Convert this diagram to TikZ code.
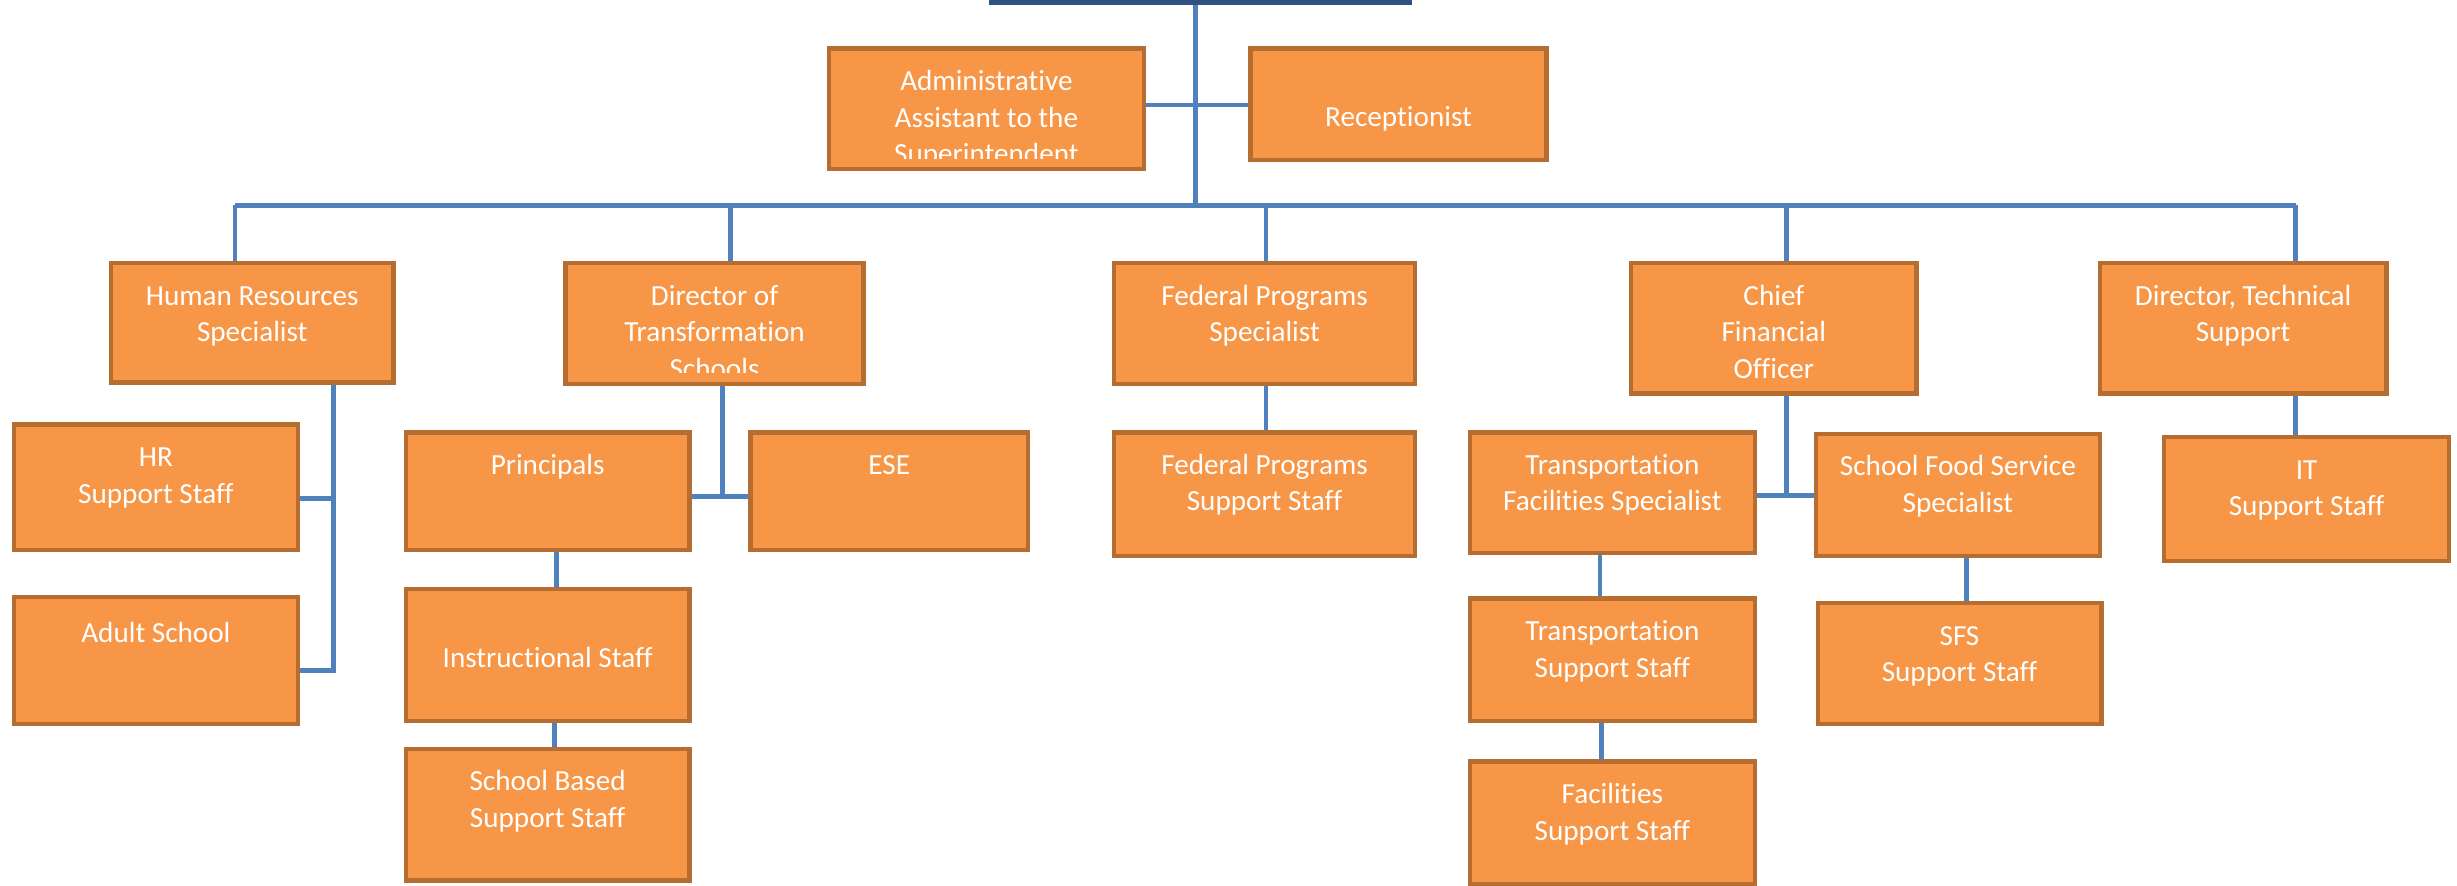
\documentclass[tikz,border=0pt]{standalone}
\usepackage{fontspec}
\setmainfont{Carlito}[Ligatures=NoCommon]
\usetikzlibrary{fit,calc,backgrounds}
\definecolor{boxfill}{HTML}{F79646}
\definecolor{boxline}{HTML}{B66D31}
\definecolor{conncol}{HTML}{4F81BD}
\definecolor{topline}{HTML}{2F5283}
\tikzset{
  obox/.style={draw=boxline, fill=boxfill, line width=1.6pt, inner sep=0pt, outer sep=0pt},
  otext/.style={text=white, align=center, inner sep=0pt, font=\fontsize{10.6}{13.3}\selectfont},
  conn/.style={draw=conncol, line width=1.7pt},
  topbox/.style={draw=topline, fill=white, line width=2.3pt, inner sep=0pt, outer sep=0pt}
}
\newcommand\obox[7][10]{%
  \node[obox, fit={(#3,#4) (#5,#6)}] (#2) {};
  \begin{scope}
    \clip (#3,#4) rectangle ({#5},{#6-7});
    \node[otext, anchor=north] (#2-t) at ($(#2.north)+(0,#1)$) {\strut #7};
  \end{scope}
}
\begin{document}
\begin{tikzpicture}[x=0.02cm, y=-0.02cm]
\useasboundingbox (0,0) rectangle (1568,565);
\clip (0,0) rectangle (1568,565);

\node[topbox, fit={(633,-40) (899,1)}] (sup) {};

\obox{admin}{529}{31}{730}{108}{Administrative\\Assistant to the\\Superintendent}
\obox[33]{recep}{798}{31}{987}{102}{Receptionist}

\obox{hrs}{71}{168}{251}{244}{Human Resources\\Specialist}
\obox{dts}{361}{168}{551}{245}{Director of\\Transformation\\Schools}
\obox{fps}{711}{168}{903}{245}{Federal Programs\\Specialist}
\obox{cfo}{1041}{168}{1223}{251}{Chief\\Financial\\Officer}
\obox{dtech}{1340}{168}{1523}{251}{Director, Technical\\Support}

\obox{hrss}{9}{271}{190}{351}{HR\\Support Staff}
\obox[12]{adult}{9}{381}{190}{462}{Adult School}

\obox{prin}{259}{276}{440}{351}{Principals}
\obox{ese}{479}{276}{656}{351}{ESE}
\obox[33]{instr}{259}{376}{440}{460}{Instructional Staff}
\obox{sbss}{259}{478}{440}{562}{School Based\\Support Staff}

\obox{fpss}{711}{276}{903}{355}{Federal Programs\\Support Staff}

\obox{tfs}{938}{276}{1120}{353}{Transportation\\Facilities Specialist}
\obox{sfss}{1159}{277}{1340}{355}{School Food Service\\Specialist}
\obox{tss}{938}{382}{1120}{460}{Transportation\\Support Staff}
\obox{fss}{938}{486}{1120}{564}{Facilities\\Support Staff}
\obox{sfs}{1160}{385}{1341}{462}{SFS\\Support Staff}

\obox{it}{1381}{279}{1563}{358}{IT\\Support Staff}

\begin{scope}[on background layer]
\coordinate (bus) at (763,131);
\coordinate (busL) at (150,131);
\coordinate (busR) at (1465,131);
\draw[conn] (sup.south -| bus) -- (bus);
\draw[conn] (admin.east |- 0,67) -- (recep.west |- 0,67);
\draw[conn] (busL) -- (busR);
\draw[conn] (busL) -- (hrs.north -| busL);
\draw[conn] (466,131) -- (dts.north -| 466,0);
\draw[conn] (808,131) -- (fps.north -| 808,0);
\draw[conn] (1140,131) -- (cfo.north -| 1140,0);
\draw[conn] (busR) -- (dtech.north -| busR);

\draw[conn] (hrs.south -| 213,0) -- (213,428) -- (adult.east |- 0,428);
\draw[conn] (213,318) -- (hrss.east |- 0,318);

\draw[conn] (dts.south -| 461,0) -- (461,317);
\draw[conn] (prin.east |- 0,317) -- (ese.west |- 0,317);
\draw[conn] (prin.south -| 355,0) -- (instr.north -| 355,0);
\draw[conn] (instr.south -| 354,0) -- (sbss.north -| 354,0);

\draw[conn] (fps.south -| 808,0) -- (fpss.north -| 808,0);

\draw[conn] (cfo.south -| 1140,0) -- (1140,316);
\draw[conn] (tfs.east |- 0,316) -- (sfss.west |- 0,316);
\draw[conn] (tfs.south -| 1021,0) -- (tss.north -| 1021,0);
\draw[conn] (tss.south -| 1022,0) -- (fss.north -| 1022,0);
\draw[conn] (sfss.south -| 1255,0) -- (sfs.north -| 1255,0);

\draw[conn] (dtech.south -| 1465,0) -- (it.north -| 1465,0);
\end{scope}
\end{tikzpicture}
\end{document}
